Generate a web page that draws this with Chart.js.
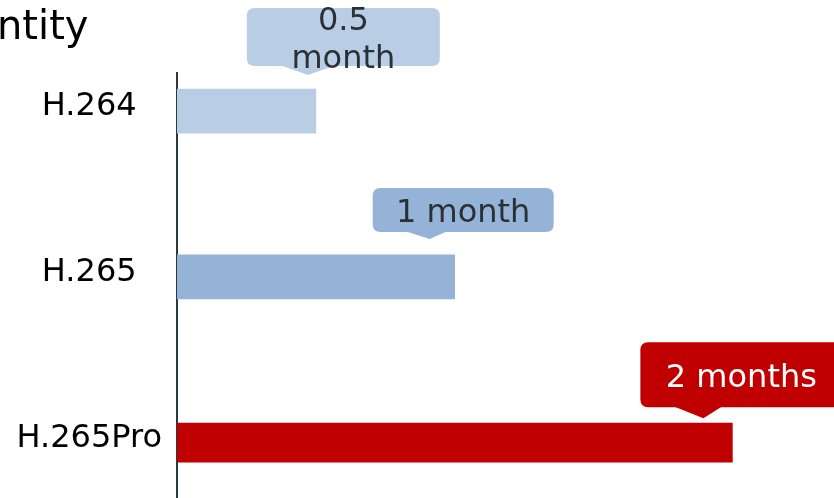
<!DOCTYPE html>
<html>
<head>
<meta charset="utf-8">
<script src="https://cdn.jsdelivr.net/npm/chart.js@4.4.0/dist/chart.umd.min.js"></script>
<style>
  html, body { margin: 0; padding: 0; background: #fff; }
  canvas { display: block; }
</style>
</head>
<body>
<canvas id="chart" width="834" height="498"></canvas>
<script>
// data
const categories = ["H.264", "H.265", "H.265Pro"];
const positions = [0, 1, 2];
const months = [0.5, 1, 2];
const calloutText = [["0.5", "month"], ["1 month"], ["2 months"]];
const titleText = "ntity";

// styles
const barColors = ["#b9cde5", "#95b3d7", "#c00000"];
const barThick = [44, 44, 39];
const textColors = ["#2a3136", "#2a3136", "#ffffff"];
// callout box geometry relative to bar end (x) and bar top (y)
const calloutGeom = [
  { left: -69, top: -81, w: 193, h: 58, tipX: -8, tipY: -14, baseL: -36, baseR: 21 },
  { left: -82, top: -67, w: 181, h: 44, tipX: -25, tipY: -16, baseL: -50, baseR: -7 },
  { left: -92, top: -81, w: 202, h: 65, tipX: -29, tipY: -5, baseL: -59, baseR: -10 },
];
const FONT = "'DejaVu Sans', Verdana, sans-serif";

const datasets = categories.map((c, i) => ({
  label: c,
  data: [{ x: months[i], y: positions[i] }],
  backgroundColor: barColors[i],
  barThickness: barThick[i],
  borderWidth: 0,
}));

function roundRect(ctx, x, y, w, h, r) {
  ctx.beginPath();
  ctx.moveTo(x + r, y);
  ctx.lineTo(x + w - r, y);
  ctx.quadraticCurveTo(x + w, y, x + w, y + r);
  ctx.lineTo(x + w, y + h - r);
  ctx.quadraticCurveTo(x + w, y + h, x + w - r, y + h);
  ctx.lineTo(x + r, y + h);
  ctx.quadraticCurveTo(x, y + h, x, y + h - r);
  ctx.lineTo(x, y + r);
  ctx.quadraticCurveTo(x, y, x + r, y);
  ctx.closePath();
}

const calloutPlugin = {
  id: "callouts",
  afterDatasetsDraw(chart) {
    const ctx = chart.ctx;
    ctx.save();
    chart.data.datasets.forEach((ds, i) => {
      const bar = chart.getDatasetMeta(i).data[0];
      const g = calloutGeom[i];
      const endX = bar.x;
      const topY = bar.y - bar.height / 2;
      const bx = endX + g.left;
      const by = topY + g.top;
      ctx.fillStyle = barColors[i];
      roundRect(ctx, bx, by, g.w, g.h, 8);
      ctx.fill();
      // pointer
      ctx.beginPath();
      ctx.moveTo(endX + g.baseL, by + g.h - 1);
      ctx.lineTo(endX + g.tipX, topY + g.tipY);
      ctx.lineTo(endX + g.baseR, by + g.h - 1);
      ctx.closePath();
      ctx.fill();
      // text
      ctx.fillStyle = textColors[i];
      ctx.font = "32px " + FONT;
      ctx.textAlign = "center";
      ctx.textBaseline = "middle";
      const lines = calloutText[i];
      const lh = 38;
      const cy = by + g.h / 2 + 4 - (lines.length - 1) * lh / 2;
      lines.forEach((t, k) => ctx.fillText(t, bx + g.w / 2, cy + k * lh));
    });
    // title fragment
    ctx.fillStyle = "#000";
    ctx.font = "40px " + FONT;
    ctx.textAlign = "left";
    ctx.textBaseline = "alphabetic";
    ctx.fillText(titleText, -3, 39);
    ctx.restore();
  },
};

new Chart(document.getElementById("chart"), {
  type: "bar",
  data: { datasets },
  options: {
    indexAxis: "y",
    responsive: false,
    animation: false,
    grouped: false,
    layout: { padding: { top: 73, left: 0, right: 0, bottom: 0 } },
    plugins: { legend: { display: false }, tooltip: { enabled: false } },
    scales: {
      x: { type: "linear", min: 0, max: 2.366, display: false },
      y: {
        type: "linear",
        offset: false,
        reverse: true,
        min: -0.23,
        max: 2.334,
        afterBuildTicks: (s) => { s.ticks = positions.map((v) => ({ value: v })); },
        afterFit: (s) => {
          s.width = 177;
          s.paddingTop = 0;
          s.paddingBottom = 0;
        },
        grid: { display: false, drawTicks: false, tickLength: 0 },
        border: { display: true, color: "#2b3940", width: 2 },
        ticks: {
          crossAlign: "center",
          padding: 15,
          labelOffset: -4,
          color: "#000",
          font: { family: FONT, size: 32 },
          callback: (v) => categories[positions.indexOf(v)] ?? "",
        },
      },
    },
  },
  plugins: [calloutPlugin],
});
</script>
</body>
</html>
